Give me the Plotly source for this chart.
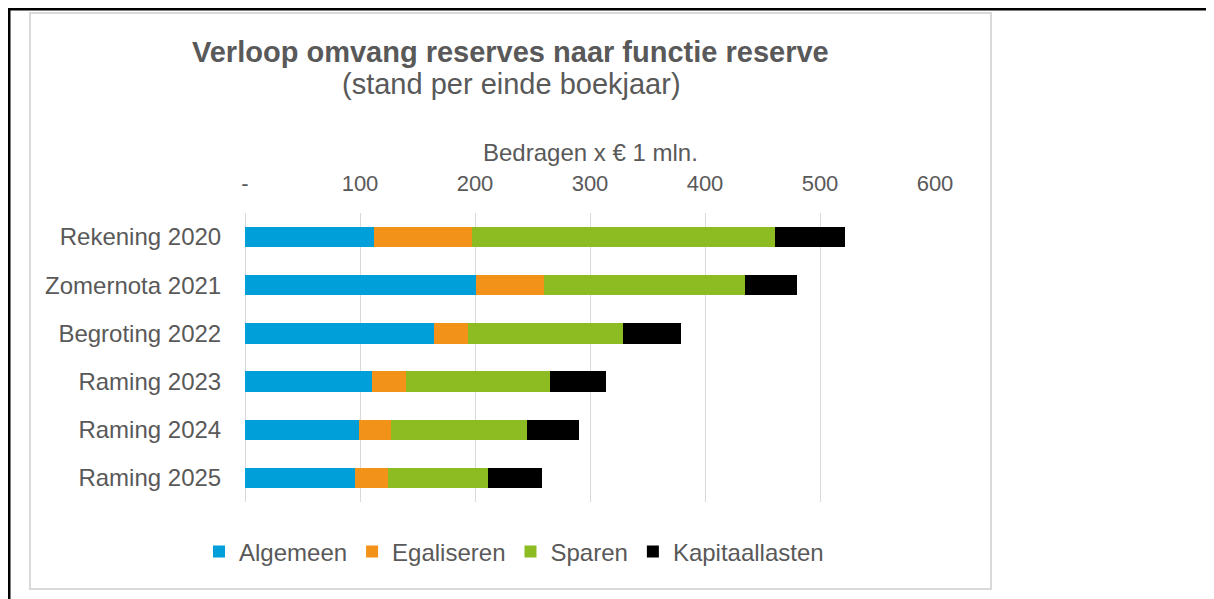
import plotly.graph_objects as go

# ── Data ───────────────────────────────────────────────────────────────────────
CATEGORIES = ["Rekening 2020", "Zomernota 2021", "Begroting 2022",
              "Raming 2023", "Raming 2024", "Raming 2025"]
ALGEMEEN       = [112, 201, 164, 110, 99, 96]
EGALISEREN     = [85, 59, 30, 30, 28, 28]
SPAREN         = [264, 175, 135, 125, 118, 87]
KAPITAALLASTEN = [61, 45, 50, 49, 45, 47]

TICK_VALS = [0, 100, 200, 300, 400, 500, 600]
TICK_TEXT = ["-", "100", "200", "300", "400", "500", "600"]

# ── Styling ────────────────────────────────────────────────────────────────────
TEXT_GREY = "#595959"
GRID_GREY = "#D9D9D9"
FONT      = "Liberation Sans, Arial, sans-serif"

SERIES = [
    ("Algemeen", ALGEMEEN, "#009FDA"),
    ("Egaliseren", EGALISEREN, "#F39219"),
    ("Sparen", SPAREN, "#8CBB22"),
    ("Kapitaallasten", KAPITAALLASTEN, "#000000"),
]

# page body has an 8px margin, so the figure is drawn 8px in from the corner
OFF = 8
W, H = 1214 - OFF, 599 - OFF
ML, MR, MT, MB = 245 - OFF, 1214 - 935, 213 - OFF, 599 - 502
PW, PH = W - ML - MR, H - MT - MB


def px_x(px):
    # window pixel -> paper coordinate
    return (px - OFF - ML) / PW


def px_y(py):
    return (H - MB - (py - OFF)) / PH


fig = go.Figure()
for name, vals, color in SERIES:
    fig.add_trace(go.Bar(
        y=CATEGORIES,
        x=vals,
        name=name,
        orientation="h",
        marker=dict(color=color, line=dict(width=0)),
    ))

fig.update_layout(
    width=W, height=H,
    barmode="stack",
    bargap=0.58,
    paper_bgcolor="white",
    plot_bgcolor="white",
    font=dict(family=FONT, color=TEXT_GREY, size=22),
    margin=dict(l=ML, r=MR, t=MT, b=MB),
    showlegend=True,
    legend=dict(
        orientation="h",
        traceorder="normal",
        x=px_x(514), xanchor="center",
        y=px_y(552), yanchor="middle",
        font=dict(size=24, color=TEXT_GREY),
        itemwidth=30,
        bgcolor="rgba(0,0,0,0)",
    ),
    xaxis=dict(
        side="top",
        range=[0, 600],
        tickvals=TICK_VALS,
        ticktext=TICK_TEXT,
        showgrid=True,
        gridcolor=GRID_GREY,
        gridwidth=1,
        zeroline=True,
        zerolinecolor=GRID_GREY,
        zerolinewidth=1,
        showline=False,
        ticks="outside",
        ticklen=12,
        tickcolor="rgba(0,0,0,0)",
        tickfont=dict(size=22, color=TEXT_GREY),
        fixedrange=True,
    ),
    yaxis=dict(
        autorange="reversed",
        showgrid=False,
        showline=False,
        ticks="outside",
        ticklen=18,
        tickcolor="rgba(0,0,0,0)",
        tickfont=dict(size=24, color=TEXT_GREY),
        fixedrange=True,
    ),
    annotations=[
        dict(text="<b>Verloop omvang reserves naar functie reserve</b>",
             x=px_x(510), y=px_y(52), xref="paper", yref="paper",
             xanchor="center", yanchor="middle", showarrow=False,
             font=dict(size=29, color=TEXT_GREY)),
        dict(text="(stand per einde boekjaar)",
             x=px_x(511), y=px_y(84), xref="paper", yref="paper",
             xanchor="center", yanchor="middle", showarrow=False,
             font=dict(size=29, color=TEXT_GREY)),
        dict(text="Bedragen x € 1 mln.",
             x=0.5, y=px_y(153), xref="paper", yref="paper",
             xanchor="center", yanchor="middle", showarrow=False,
             font=dict(size=24, color=TEXT_GREY)),
    ],
    shapes=[
        # light grey chart frame
        dict(type="rect", xref="paper", yref="paper",
             x0=px_x(30), x1=px_x(991), y0=px_y(589), y1=px_y(13),
             line=dict(color="#D9D9D9", width=2), layer="below"),
        # black outer border of the screenshot
        dict(type="rect", xref="paper", yref="paper",
             x0=px_x(9), x1=px_x(1230), y0=px_y(620), y1=px_y(9),
             line=dict(color="black", width=3)),
    ],
)

fig.write_html("out.html", config={"displayModeBar": False})
